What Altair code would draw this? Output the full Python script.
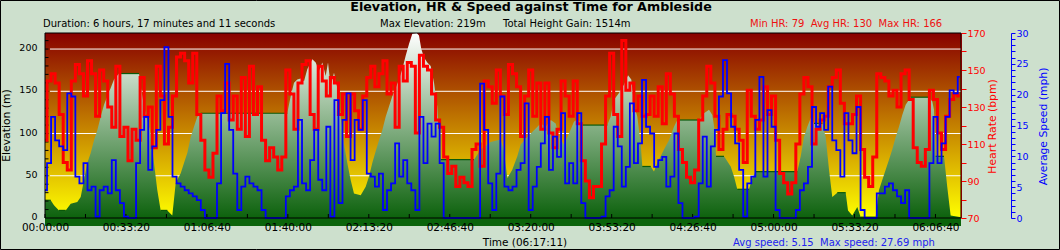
import altair as alt
import pandas as pd

W, H = 916, 185
DURATION = 22631
ELEV_DOMAIN = [0, 219]
HR_DOMAIN = [70, 170]
SPEED_DOMAIN = [0, 30]
FONT = "DejaVu Sans"
BG = "#CDE0CD"

# ---- elevation profile (time in s, elevation in m) ----
elev_time = [0, 141, 222, 346, 511, 635, 798, 882, 964, 1045, 1129, 1211, 1292, 1376, 1458, 1539, 1623, 1705,
             1828, 2322, 2364, 2446, 2527, 2611, 2693, 2774, 2858, 3022, 3145, 3229, 3353, 3434, 3516, 3600,
             3681, 3763, 3847, 5986, 6070, 6152, 6233, 6317, 6399, 6480, 6604, 6688, 6769, 6851, 6935, 6992,
             7058, 7140, 7221, 7305, 7387, 7469, 7552, 7634, 7800, 7923, 8005, 8086, 8170, 8252, 8333, 8417,
             8499, 8580, 8664, 8746, 8827, 8911, 8993, 9075, 9183, 9240, 9297, 9364, 9445, 9529, 9611, 9692,
             9776, 10599, 10764, 11011, 11258, 11340, 11422, 11545, 11669, 11753, 11916, 12081, 12247, 12370,
             12494, 12617, 12699, 12822, 12946, 13069, 13151, 13275, 13892, 13976, 14058, 14181, 14305, 14404,
             14485, 14552, 14634, 14717, 14757, 14964, 15046, 15127, 15211, 15293, 15416, 15540, 15622, 16158,
             16282, 16405, 16487, 16546, 16578, 16775, 16941, 17023, 17104, 17393, 17475, 17559, 18587, 18671,
             18752, 18834, 18932, 18999, 19204, 19288, 19370, 19451, 19575, 19782, 19839, 19945, 20069, 20153,
             20523, 20605, 20686, 20770, 20852, 20933, 21017, 21099, 21180, 21264, 21388, 21840, 21922, 21964,
             22006, 22211, 22291, 22375, 22631]
elev_m = [21, 21, 15, 9, 9, 17, 19, 25, 45, 65, 77, 92, 104, 120, 134, 144, 154, 164,
          171, 171, 156, 132, 116, 100, 65, 33, 9, 9, 3, 41, 53, 65, 77, 96,
          108, 120, 124, 124, 144, 160, 164, 165, 162, 176, 188, 184, 174, 184, 168, 184,
          156, 172, 154, 120, 88, 65, 45, 29, 27, 37, 49, 65, 79, 92, 104, 120,
          132, 144, 154, 164, 176, 192, 206, 218, 219, 216, 200, 190, 184, 180, 160, 132,
          69, 69, 81, 90, 93, 80, 47, 57, 73, 87, 96, 104, 112, 108,
          116, 112, 96, 87, 100, 114, 117, 110, 110, 120, 140, 148, 158, 169,
          164, 134, 120, 88, 61, 61, 55, 65, 73, 81, 92, 108, 116, 116,
          124, 128, 122, 104, 73, 73, 61, 49, 34, 34, 47, 55, 55, 73,
          96, 108, 120, 112, 112, 96, 57, 25, 30, 30, 9, 3, 13, 1,
          1, 33, 45, 57, 69, 81, 96, 108, 122, 134, 143, 143, 138, 128,
          73, 73, 37, 3, 1]

# ---- heart rate and speed, one reading every 100 s ----
SAMPLE_STEP = 100
hr_bpm = [112, 144, 148, 143, 126, 100, 96, 144, 153, 148, 136, 155, 148, 125, 150, 144, 130, 119, 152, 114,
          119, 101, 118, 112, 146, 125, 130, 108, 152, 136, 110, 119, 136, 157, 159, 155, 143, 159, 126, 112,
          96, 92, 105, 136, 128, 143, 123, 136, 118, 146, 114, 152, 126, 141, 112, 101, 108, 103,
          96, 103, 150, 137, 118, 143, 153, 155, 126, 118, 152, 144, 136, 146, 143, 126, 137, 114, 137, 128,
          118, 136, 146, 152, 141, 148, 155, 137, 143, 119, 152, 144, 154, 152, 116, 158, 152, 150, 137, 123,
          119, 103, 94, 98, 87, 92, 89, 87, 107, 110, 98, 144, 141, 132, 150, 136,
          126, 153, 148, 141, 114, 136, 150, 125, 143, 118, 143, 116, 108, 118, 144, 136, 125, 144, 121, 101,
          90, 81, 87, 87, 110, 136, 159, 126, 114, 166, 139, 143, 128, 136, 125, 126, 136, 125, 141, 121,
          148, 137, 125, 107, 100, 92, 89, 96, 123, 136, 152, 143, 125, 107, 118, 126, 125,
          118, 112, 100, 139, 125, 118, 123, 141, 126, 136, 112, 94, 89, 83, 89, 110, 137, 146, 141, 110,
          118, 123, 125, 141, 146, 150, 132, 121, 121, 126, 136, 107, 92, 87, 103, 148, 146, 144, 136, 139,
          130, 148, 150, 134, 108, 100, 98, 107, 139, 134, 116, 107, 125, 134, 137, 136]
speed_mph = [4.5, 8.9, 16.4, 12.6, 11.6, 11, 20.2, 19.7, 6.7, 5.6, 8.9, 4.5, 5.1, 0.2, 4.5, 5.1, 4, 9.4, 4.5, 2.4,
             0.2, 0, 0, 8.9, 14.3, 16.4, 7.8, 11.6, 14.3, 19.1, 27.7, 16.4, 6.7, 5.6, 5.1, 4.5, 4, 3.5, 2.9, 1.3,
             0, 0, 0, 5.6, 17, 25, 14.3, 7.2, 1.3, 5.1, 6.7, 5.6, 5.1, 4.5, 1.3, 0, 0, 0,
             0, 0, 3.5, 4.5, 5.1, 15.9, 5.6, 4.5, 9.4, 14.3, 6.2, 4.5, 14.8, 0.2, 19.1, 2.4, 15.9, 20.2, 9.4, 15.9,
             14.3, 19.1, 7.2, 6.7, 5.1, 7.2, 1.3, 4.5, 5.6, 12.1, 6.7, 9.4, 5.6, 4.5, 1.3, 16.4, 8.9, 15.3, 13.2, 15.3,
             8.9, 0, 0, 0, 0, 0, 0, 0, 0, 0, 21.8, 14.3, 5.6, 1.3, 7.2, 19.7,
             5.1, 4.5, 5.1, 7.8, 8.9, 18.6, 1.3, 5.1, 8.3, 12.1, 16.4, 7.8, 13.2, 9.9, 17, 5.6, 8.9, 5.6, 17, 2.4,
             0, 0, 0, 0, 0.2, 3.5, 4.5, 14.8, 11.6, 5.1, 8.3, 18.6, 8.9, 12.1, 22.4, 14.8, 13.7, 8.3, 9.4, 9.9,
             5.1, 6.7, 13.7, 2.4, 0, 0, 0, 0.2, 5.6, 13.2, 5.1, 11.6, 14.3, 19.7, 25.6, 20.2, 14.8,
             12.1, 7.8, 0.2, 5.6, 6.7, 15.9, 22.9, 6.7, 17.5, 14.8, 1.3, 0, 0, 0, 0, 1.3, 4.5, 5.6, 8.3, 18,
             14.8, 17, 14.3, 21.3, 12.6, 11, 6.7, 17, 12.6, 10.5, 18, 1.3, 0, 0, 0, 4, 4, 5.1, 5.6, 4.5,
             3.5, 2.4, 4.5, 0, 0, 0, 0, 0, 8.9, 16.4, 8.9, 12.1, 16.4, 20.7, 20.2, 22.9]

# ---- axis ticks ----
x_label_times = list(range(0, 22001, 2000))
x_tick_times = list(range(0, 22001, 1000))
elev_labels = [0, 50, 100, 150, 200]
elev_grid = [50, 100, 150, 200]
elev_minor = list(range(10, 211, 10))
hr_ticks = list(range(70, 171, 10))
speed_ticks = list(range(0, 31))

# ---- texts (non-breaking spaces keep the double gaps) ----
NB = "\u00a0"
title_text = "Elevation, HR & Speed against Time for Ambleside"
duration_text = "Duration: 6 hours, 17 minutes and 11 seconds"
max_elev_text = "Max Elevation: 219m"
gain_text = "Total Height Gain: 1514m"
hr_stats_text = f"Min HR: 79{NB}{NB}Avg HR: 130{NB}{NB}Max HR: 166"
time_text = "Time (06:17:11)"
speed_stats_text = f"Avg speed: 5.15{NB}{NB}Max speed: 27.69 mph"

elev_df = pd.DataFrame({"t": elev_time, "elev": elev_m})
hr_df = pd.DataFrame({"t": [i * SAMPLE_STEP for i in range(len(hr_bpm))], "hr": hr_bpm})
sp_df = pd.DataFrame({"t": [i * SAMPLE_STEP for i in range(len(speed_mph))], "speed": speed_mph})
plat = [(elev_time[i], elev_time[i + 1], elev_m[i]) for i in range(len(elev_m) - 1) if elev_m[i] == elev_m[i + 1]]
plat_df = pd.DataFrame(plat, columns=["t0", "t1", "e"])
one = pd.DataFrame({"a": [0]})

xs = alt.Scale(domain=[0, DURATION], nice=False, zero=False)


def ys_e():
    return alt.Scale(domain=ELEV_DOMAIN, nice=False, zero=False)


bg_grad = alt.LinearGradient(gradient="linear",
                             stops=[alt.GradientStop(color="#880000", offset=0),
                                    alt.GradientStop(color="#FFFF00", offset=1)],
                             x1=0, x2=0, y1=0, y2=1)
area_grad = alt.LinearGradient(gradient="linear",
                               stops=[alt.GradientStop(color="#FFFFFF", offset=0),
                                      alt.GradientStop(color="#0D620D", offset=1)],
                               x1=0, x2=0, y1=0, y2=1)

x_axis = alt.Axis(values=x_label_times, labelExpr="utcFormat(datum.value*1000, '%H:%M:%S')",
                  title=None, domain=False, ticks=False, tickSize=0, labelPadding=4.5, labelFontSize=10.5,
                  labelColor="black", grid=False, zindex=1, labelFlush=False, labelOverlap=False)
y_axis = alt.Axis(orient="left", values=elev_labels, title="Elevation (m)", domain=False, ticks=False,
                  tickSize=0, labelPadding=8, labelFontSize=9.5, labelColor="black", grid=False,
                  labelOffset=-1.5,
                  labelFlush=False, labelOverlap=False, titleFontSize=10.8, titleFontWeight="normal",
                  titleColor="black", titleAngle=270, titleX=-39, titleY=92, titleAlign="center",
                  titleBaseline="middle")

bg = alt.Chart(pd.DataFrame({"t0": [0], "t1": [DURATION], "e0": [ELEV_DOMAIN[0]], "e1": [ELEV_DOMAIN[1]]})).mark_rect(
    fill=bg_grad).encode(x=alt.X("t0:Q", scale=xs, axis=None), x2="t1",
                         y=alt.Y("e0:Q", scale=ys_e(), axis=None), y2="e1")
grid = alt.Chart(pd.DataFrame({"g": elev_grid})).mark_rule(color="white", strokeWidth=1).encode(
    y=alt.Y("g:Q", scale=ys_e(), axis=None), x=alt.value(5), x2=alt.value(W))
area = alt.Chart(elev_df).mark_area(fill=area_grad).encode(
    x=alt.X("t:Q", scale=xs, axis=x_axis), y=alt.Y("elev:Q", scale=ys_e(), axis=y_axis))
plateaus = alt.Chart(plat_df).mark_rule(color="#0A5A0A", strokeWidth=1.2).encode(
    x=alt.X("t0:Q", scale=xs, axis=None), x2="t1", y=alt.Y("e:Q", scale=ys_e(), axis=None))
left_ticks = alt.Chart(pd.DataFrame({"v": elev_minor})).mark_rule(color="black").encode(
    y=alt.Y("v:Q", scale=ys_e(), axis=None), x=alt.value(0), x2=alt.value(3.5))
band = alt.Chart(one).mark_rect(color="#0B640B").encode(
    x=alt.value(0), x2=alt.value(W), y=alt.value(H), y2=alt.value(H + 8))
x_ticks = alt.Chart(pd.DataFrame({"t": x_tick_times})).mark_rule(color="black").encode(
    x=alt.X("t:Q", scale=xs, axis=None), y=alt.value(H - 4), y2=alt.value(H))

hr_axis = alt.Axis(orient="right", values=hr_ticks, labelExpr="datum.value % 20 == 10 ? datum.label : ''",
                   tickSize=5, tickColor="#FF0000", labelColor="#FF0000", domainColor="#FF0000",
                   titleColor="#FF0000", title="Heart Rate (bpm)", titleAngle=270, titleX=31, titleY=93,
                   titleAlign="center", titleBaseline="middle", labelPadding=1, grid=False, labelFlush=False,
                   labelOverlap=False, labelFontSize=9.5, titleFontSize=10.8, titleFontWeight="normal")
hr_chart = alt.Chart(hr_df).mark_line(color="#FF0000", strokeWidth=3, interpolate="step").encode(
    x=alt.X("t:Q", scale=xs, axis=None),
    y=alt.Y("hr:Q", scale=alt.Scale(domain=HR_DOMAIN, nice=False, zero=False), axis=hr_axis))

sp_axis = alt.Axis(orient="right", offset=50, values=speed_ticks,
                   labelExpr="datum.value % 5 == 0 ? datum.label : ''",
                   tickSize=4, tickColor="#0000FF", labelColor="#0000FF", domainColor="#0000FF",
                   titleColor="#0000FF", title="Average Speed (mph)", titleAngle=270, titleX=32, titleY=93,
                   titleAlign="center", titleBaseline="middle", labelPadding=1, grid=False, labelFlush=False,
                   labelOverlap=False, labelFontSize=9.5, titleFontSize=10.8, titleFontWeight="normal")
sp_chart = alt.Chart(sp_df).mark_line(color="#0000FF", strokeWidth=1.8, interpolate="step").encode(
    x=alt.X("t:Q", scale=xs, axis=None),
    y=alt.Y("speed:Q", scale=alt.Scale(domain=SPEED_DOMAIN, nice=False, zero=False), axis=sp_axis))

border = alt.Chart(one).mark_rect(fill="transparent", stroke="black", strokeWidth=1).encode(
    x=alt.value(0), x2=alt.value(W), y=alt.value(0), y2=alt.value(H))
outer = alt.Chart(one).mark_rect(fill="transparent", stroke="black", strokeWidth=1).encode(
    x=alt.value(-44.5), x2=alt.value(W + 98.5), y=alt.value(-32.5), y2=alt.value(H + 31.5))


def txt(s, x, y, size=10, color="black", align="left", weight="normal"):
    return alt.Chart(one).mark_text(text=s, align=align, baseline="middle", fontSize=size, color=color,
                                    fontWeight=weight, font=FONT).encode(x=alt.value(x), y=alt.value(y))


texts = [
    txt(title_text, 486, -26, size=12.7, align="center", weight="bold"),
    txt(duration_text, -2, -9.5),
    txt(max_elev_text, 335, -9.5),
    txt(gain_text, 458, -9.5),
    txt(hr_stats_text, 705, -9.5, color="#EE1111"),
    txt(time_text, 480, 210, size=10.5, align="center"),
    txt(speed_stats_text, 688, 210, color="#2222EE"),
]

chart = alt.layer(bg, grid, area, plateaus, left_ticks, band, x_ticks, hr_chart, sp_chart, border, outer,
                  *texts).resolve_scale(
    y="independent"
).resolve_axis(
    x="independent", y="independent"
).properties(
    width=W, height=H,
    padding={"left": 45, "top": 33, "right": 99, "bottom": 32},
    autosize=alt.AutoSizeParams(type="none"),
    background=BG,
).configure_view(strokeWidth=0).configure_axis(labelFont=FONT, titleFont=FONT)

chart.save("out.html", embed_options={"renderer": "svg", "actions": False})
